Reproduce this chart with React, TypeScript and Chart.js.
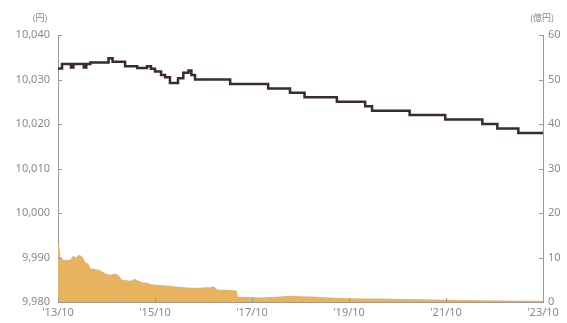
import React, { useEffect, useRef } from "react";
import { Chart, registerables } from "chart.js";

Chart.register(...registerables);

// x axis: months since 2013/10
const xTickLabels = ["'13/10", "'15/10", "'17/10", "'19/10", "'21/10", "'23/10"];

// 基準価額 (円) — step levels, each value holds until the next month
const navMonths = [
  0, 1, 3.2, 3.8, 6.4, 7, 8, 12.5, 13.5, 16.6, 19.6, 22, 23, 24, 25.5, 26.5, 27.7,
  29.7, 31, 32.3, 33, 33.9, 42.6, 52, 57.4, 61, 69, 76, 77.7, 87, 95.8, 105,
  108.7, 113.9, 120,
];
const navValues = [
  10032.5, 10033.5, 10032.7, 10033.5, 10032.7, 10033.5, 10033.8, 10034.8, 10034,
  10033, 10032.6, 10033, 10032.4, 10031.8, 10031, 10030.5, 10029.2, 10030.3,
  10031.5, 10032, 10031, 10030, 10029, 10028, 10027, 10026, 10025, 10024, 10023,
  10022, 10021, 10020, 10019, 10018, 10018,
];

// 純資産総額 (億円)
const assetMonths = [
  0, 0.3, 0.6, 1, 2, 3, 3.8, 4.5, 5.2, 6, 6.7, 7.5, 8, 9, 10, 11, 12, 13, 14, 15,
  15.8, 17, 18, 19, 20, 21, 22, 23, 25, 27, 29, 31, 33, 35, 36.5, 37.6, 38.5,
  39.5, 42, 44.2, 44.5, 48, 50, 52, 54, 57, 60, 64, 67, 70, 75, 80, 85, 90, 95,
  100, 105, 110, 115, 120,
];
const assetValues = [
  13.3, 12.5, 10.2, 9.6, 9.4, 9.5, 10.4, 10.0, 10.6, 10.2, 9.0, 8.6, 7.6, 7.4,
  7.3, 6.8, 6.3, 6.1, 6.4, 6.0, 5.0, 4.9, 4.8, 5.2, 4.7, 4.4, 4.3, 4.0, 3.8, 3.7,
  3.5, 3.3, 3.2, 3.2, 3.3, 3.3, 3.5, 2.8, 2.7, 2.6, 1.2, 1.1, 1.0, 1.1, 1.2, 1.4,
  1.3, 1.2, 1.0, 0.9, 0.8, 0.8, 0.7, 0.6, 0.5, 0.45, 0.4, 0.35, 0.3, 0.3,
];

const leftUnit = "(円)";
const rightUnit = "(億円)";

const AXIS_COLOR = "#9a9a9a";
const LABEL_COLOR = "#8a8a8a";
const FONT = '"Noto Sans", "Noto Sans CJK JP", sans-serif';

const innerTicks = {
  id: "innerTicks",
  afterDatasetsDraw(chart: any) {
    const { ctx, chartArea, scales } = chart;
    ctx.save();
    ctx.strokeStyle = AXIS_COLOR;
    ctx.lineWidth = 1;
    const len = 4;
    scales.y.ticks.forEach((t: any) => {
      const y = Math.round(scales.y.getPixelForValue(t.value)) + 0.5;
      ctx.beginPath();
      ctx.moveTo(chartArea.left, y);
      ctx.lineTo(chartArea.left + len, y);
      ctx.stroke();
    });
    scales.y2.ticks.forEach((t: any) => {
      const y = Math.round(scales.y2.getPixelForValue(t.value)) + 0.5;
      ctx.beginPath();
      ctx.moveTo(chartArea.right, y);
      ctx.lineTo(chartArea.right - len, y);
      ctx.stroke();
    });
    scales.x.ticks.forEach((t: any) => {
      const x = Math.round(scales.x.getPixelForValue(t.value)) + 0.5;
      ctx.beginPath();
      ctx.moveTo(x, chartArea.bottom);
      ctx.lineTo(x, chartArea.bottom - len);
      ctx.stroke();
    });
    ctx.fillStyle = LABEL_COLOR;
    ctx.font = '9px "Noto Sans CJK JP", sans-serif';
    ctx.textAlign = "center";
    ctx.textBaseline = "middle";
    ctx.fillText(leftUnit, 40, 18);
    ctx.fillText(rightUnit, 542, 18);
    ctx.restore();
  },
};

export default function App() {
  const ref = useRef<HTMLCanvasElement>(null);

  useEffect(() => {
    document.body.style.margin = "0";
    const canvas = ref.current;
    if (!canvas) return;
    const chart = new Chart(canvas, {
      type: "line",
      data: {
        datasets: [
          {
            label: "基準価額",
            data: navMonths.map((m, i) => ({ x: m, y: navValues[i] })),
            yAxisID: "y",
            borderColor: "#3a2c29",
            borderWidth: 2.5,
            pointRadius: 0,
            stepped: true,
            fill: false,
            order: 0,
          },
          {
            label: "純資産総額",
            data: assetMonths.map((m, i) => ({ x: m, y: assetValues[i] })),
            yAxisID: "y2",
            borderColor: "#E8B35E",
            borderWidth: 0,
            backgroundColor: "#E8B35E",
            pointRadius: 0,
            fill: "origin",
            order: 1,
          },
        ],
      },
      options: {
        responsive: false,
        animation: false,
        devicePixelRatio: 1,
        layout: { padding: { top: 35, left: 0, right: 0, bottom: 0 } },
        plugins: { legend: { display: false }, tooltip: { enabled: false } },
        scales: {
          x: {
            type: "linear",
            min: 0,
            max: 120,
            afterFit: (s: any) => {
              s.height = 21;
            },
            afterBuildTicks: (s: any) => {
              s.ticks = xTickLabels.map((_, i) => ({ value: i * 24 }));
            },
            ticks: {
              color: LABEL_COLOR,
              font: { family: FONT, size: 11 },
              padding: 4,
              maxRotation: 0,
              autoSkip: false,
              callback: (v: any) => xTickLabels[Math.round(Number(v) / 24)] ?? "",
            },
            grid: { drawOnChartArea: false, drawTicks: false },
            border: { display: true, color: AXIS_COLOR, width: 1 },
          },
          y: {
            position: "left",
            min: 9980,
            max: 10040,
            afterFit: (s: any) => {
              s.width = 58;
            },
            ticks: {
              stepSize: 10,
              color: LABEL_COLOR,
              font: { family: FONT, size: 11 },
              padding: 8,
              callback: (v: any) => Number(v).toLocaleString("en-US"),
            },
            grid: { drawOnChartArea: false, drawTicks: false },
            border: { display: true, color: AXIS_COLOR, width: 1 },
          },
          y2: {
            position: "right",
            min: 0,
            max: 60,
            afterFit: (s: any) => {
              s.width = 24;
            },
            ticks: {
              stepSize: 10,
              color: LABEL_COLOR,
              font: { family: FONT, size: 11 },
              padding: 5,
            },
            grid: { drawOnChartArea: false, drawTicks: false },
            border: { display: true, color: AXIS_COLOR, width: 1 },
          },
        },
      },
      plugins: [innerTicks],
    } as any);
    return () => chart.destroy();
  }, []);

  return (
    <div style={{ width: 567, height: 323, background: "#fff" }}>
      <canvas ref={ref} width={567} height={323} style={{ display: "block" }} />
    </div>
  );
}
